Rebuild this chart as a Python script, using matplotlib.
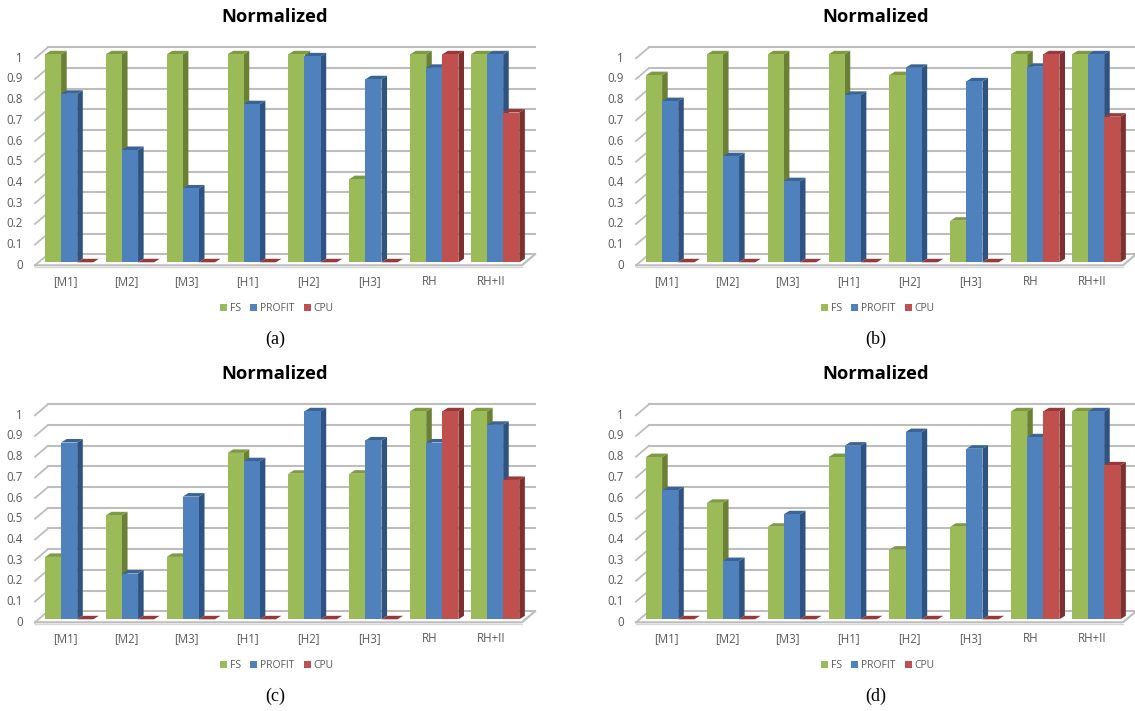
import matplotlib
matplotlib.use("Agg")
import matplotlib.pyplot as plt
from matplotlib.patches import Polygon, Patch

W, H = 1135, 711
categories = ["[M1]", "[M2]", "[M3]", "[H1]", "[H2]", "[H3]", "RH", "RH+II"]
y_ticks = [0, 0.1, 0.2, 0.3, 0.4, 0.5, 0.6, 0.7, 0.8, 0.9, 1]
y_labels = ["0", "0.1", "0.2", "0.3", "0.4", "0.5", "0.6", "0.7", "0.8", "0.9", "1"]
series = ["FS", "PROFIT", "CPU"]
captions = ["(a)", "(b)", "(c)", "(d)"]

fs_a = [1, 1, 1, 1, 1, 0.4, 1, 1]
profit_a = [0.81, 0.54, 0.355, 0.76, 0.99, 0.88, 0.935, 1]
cpu_a = [0, 0, 0, 0, 0, 0, 1, 0.72]
fs_b = [0.9, 1, 1, 1, 0.9, 0.2, 1, 1]
profit_b = [0.775, 0.51, 0.39, 0.805, 0.935, 0.87, 0.94, 1]
cpu_b = [0, 0, 0, 0, 0, 0, 1, 0.7]
fs_c = [0.3, 0.5, 0.3, 0.8, 0.7, 0.7, 1, 1]
profit_c = [0.85, 0.22, 0.59, 0.76, 1, 0.86, 0.85, 0.935]
cpu_c = [0, 0, 0, 0, 0, 0, 1, 0.67]
fs_d = [0.78, 0.56, 0.445, 0.78, 0.335, 0.445, 1, 1]
profit_d = [0.62, 0.28, 0.505, 0.835, 0.9, 0.82, 0.875, 1]
cpu_d = [0, 0, 0, 0, 0, 0, 1, 0.74]
panels = [(fs_a, profit_a, cpu_a), (fs_b, profit_b, cpu_b),
          (fs_c, profit_c, cpu_c), (fs_d, profit_d, cpu_d)]

front = ["#9BBB59", "#4F81BD", "#C0504D"]
side = ["#6A8035", "#2F5381", "#7F2F2D"]
top = ["#7F9A45", "#3A6396", "#97393A"]
GRID = "#BDBDBD"
TXT = "#595959"

GROUP_PX, UNIT_PX, BAR_PX = 60.85, 208.0, 16.1
fig = plt.figure(figsize=(W / 100, H / 100), dpi=100, facecolor="white")

def panel(idx, data):
    ox = 601 * (idx % 2)
    oy = 357 * (idx // 2)
    left, right, upper, lower = ox, ox + 534 + 26, oy, oy + 350
    ax = fig.add_axes([left / W, 1 - lower / H, (right - left) / W, (lower - upper) / H])
    x0, y0 = ox + 45, oy + 262.3
    ax.set_xlim((left - x0) / GROUP_PX, (right - x0) / GROUP_PX)
    ax.set_ylim((y0 - lower) / UNIT_PX, (y0 - upper) / UNIT_PX)
    ax.axis("off")
    px = 1 / GROUP_PX
    py = 1 / UNIT_PX

    # wall gridlines and diagonal ticks
    for t, lab in zip(y_ticks, y_labels):
        yb = t * 207 * py + 8 * py
        yf = t * 207 * py - 3 * py
        ax.plot([-10 * px, 3 * px], [yf, yb], color=GRID, lw=1.3, zorder=1)
        ax.plot([3 * px, 490 * px], [yb, yb], color=GRID, lw=1.5, zorder=1)
        ax.text(-22 * px, yf, lab, ha="right", va="center",
                color=TXT, fontsize=8.3, family="Open Sans")
    # floor
    ax.plot([-10 * px, 477 * px, 490 * px], [-3 * py, -3 * py, 8 * py],
            color=GRID, lw=1.5, zorder=1)
    ax.plot([-10 * px, 477 * px], [-4.5 * py, -4.5 * py], color="#D9D9D9", lw=1, zorder=1)

    dx, dy = 5.6 * px, 3.5 * py
    w = BAR_PX * px
    z = 2
    for i, cat in enumerate(categories):
        for s in range(3):
            v = data[s][i]
            xl = i + s * w
            xr = xl + w
            if v > 0:
                ax.add_patch(Polygon([(xr, 0), (xr + dx, dy), (xr + dx, v + dy), (xr, v)],
                                     fc=side[s], ec="none", zorder=z))
                ax.bar(xl, v, width=w, align="edge", color=front[s], zorder=z + 0.2)
            ax.add_patch(Polygon([(xl, v), (xr, v), (xr + dx, v + dy), (xl + dx, v + dy)],
                                 fc=top[s], ec="none", zorder=z + 0.1))
            z += 0.5
        ax.text(i + 20 * px, -19.2 * py, cat, ha="center", va="center",
                color=TXT, fontsize=8.3, family="Open Sans")

    ax.text(230 * px, 245 * py, "Normalized", ha="center", va="center",
            fontsize=13.2, fontweight="bold", color="black", family="Open Sans")
    handles = [Patch(fc=front[s], label=series[s]) for s in range(3)]
    ax.legend(handles=handles, ncol=3, frameon=False, loc="center",
              bbox_to_anchor=(232 * px, -46 * py), bbox_transform=ax.transData,
              handlelength=0.68, handleheight=0.68,
              handletextpad=0.3, columnspacing=0.85, borderpad=0, labelcolor=TXT,
              prop={"family": "Open Sans", "size": 7.5})
    ax.text(230 * px, -77 * py, captions[idx], ha="center", va="center",
            fontsize=13, color="black", family="Liberation Serif")

for k, d in enumerate(panels):
    panel(k, d)

fig.savefig("out.png", dpi=100)
